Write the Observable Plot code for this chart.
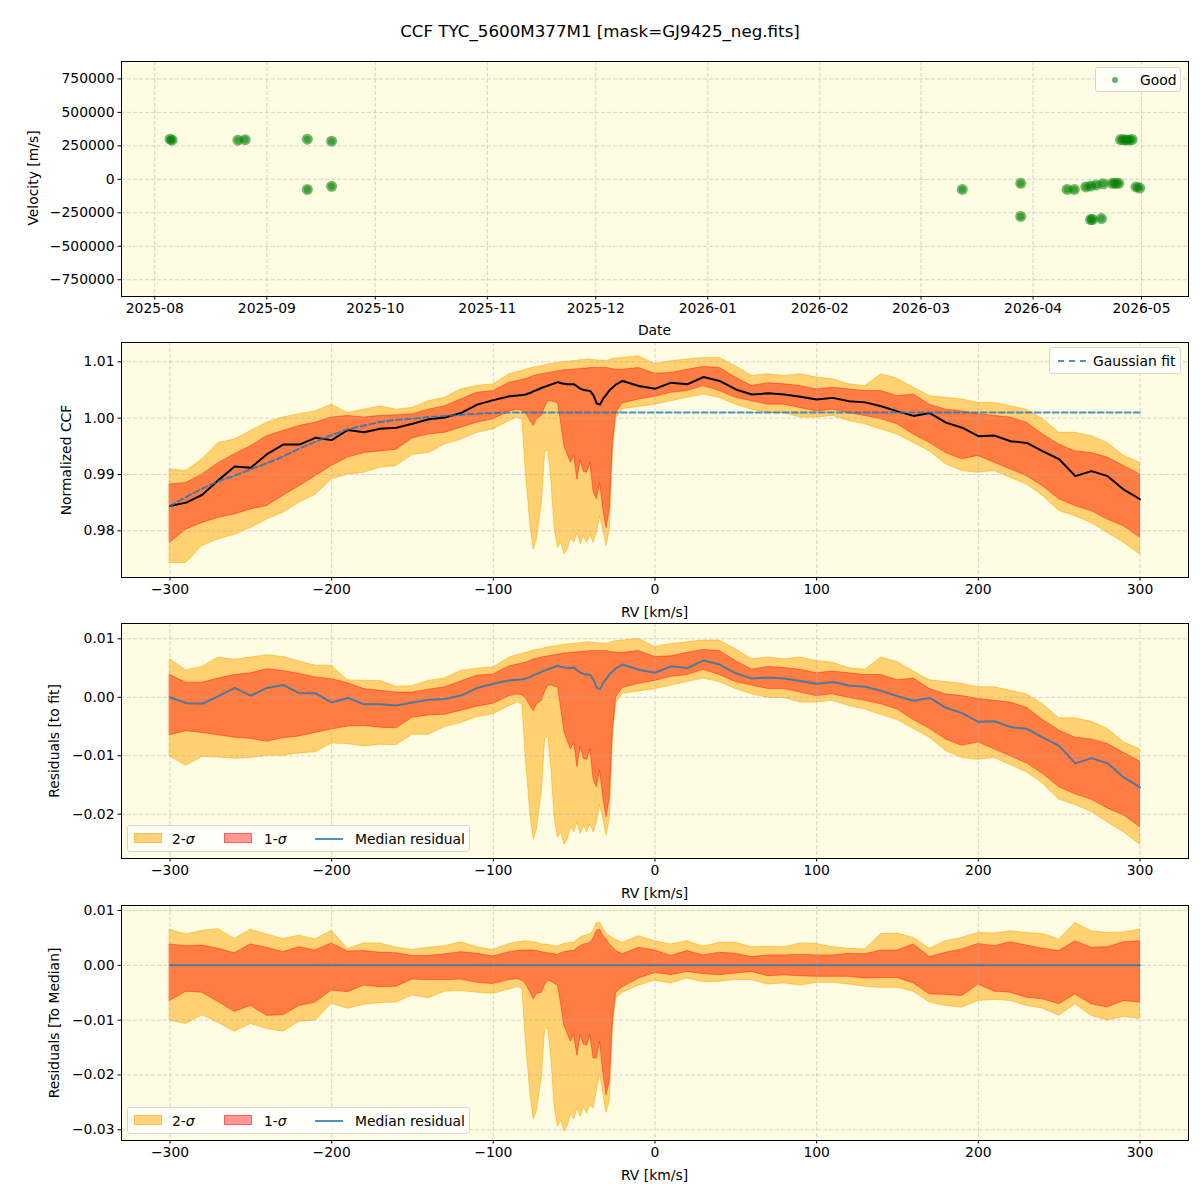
<!DOCTYPE html>
<html><head><meta charset="utf-8">
<script src="https://cdn.jsdelivr.net/npm/d3@7"></script>
<script src="https://cdn.jsdelivr.net/npm/@observablehq/plot@0.6"></script>
<style>
body{margin:0;background:#fff;font-family:"DejaVu Sans",sans-serif;color:#000;}
#fig{position:relative;width:1200px;height:1200px;overflow:hidden;}
.panel{position:absolute;left:0;}
.title{position:absolute;left:0;width:1200px;top:21px;text-align:center;font-size:16.7px;line-height:20px;}
.lab{position:absolute;font-size:13.9px;white-space:nowrap;line-height:16px;transform:translate(-50%,-50%);}
.ylab{transform:translate(-50%,-50%) rotate(-90deg);}
.legend{position:absolute;background:rgba(255,255,255,0.8);border:1px solid #d6d6d6;border-radius:3px;font-size:13.9px;box-sizing:border-box;}
.legend span{position:absolute;display:block;}
.lt{top:4px;line-height:17px;white-space:nowrap;}
</style></head>
<body><div id="fig"></div>
<script>
// ---------- data: observations (top panel) ----------
const obsDate = ["2025-08-05T05:00Z","2025-08-05T19:00Z","2025-08-24T00:00Z","2025-08-26T00:00Z",
  "2025-09-12T05:00Z","2025-09-12T05:00Z","2025-09-18T22:00Z","2025-09-18T22:00Z",
  "2026-03-12T10:00Z","2026-03-28T14:00Z","2026-03-28T14:00Z","2026-04-10T10:00Z","2026-04-12T10:00Z",
  "2026-04-15T14:00Z","2026-04-16T22:00Z","2026-04-18T12:00Z","2026-04-20T10:00Z","2026-04-22T22:00Z",
  "2026-04-23T20:00Z","2026-04-24T17:00Z","2026-04-16T22:00Z","2026-04-17T10:00Z","2026-04-19T22:00Z",
  "2026-04-25T05:00Z","2026-04-26T00:00Z","2026-04-26T20:00Z","2026-04-27T14:00Z","2026-04-28T10:00Z",
  "2026-04-29T12:00Z","2026-04-30T12:00Z"];
const obsVel = [300000,292000,292000,296000,
  300000,-75000,285000,-52000,
  -75000,-30000,-277000,-75000,-75000,
  -57000,-50000,-42000,-33000,-30000,
  -30000,-30000,-300000,-300000,-293000,
  297000,295000,294000,294000,297000,
  -57000,-65000];

// ---------- data: CCF profile (km/s grid) ----------
const rv = [-300,-290,-280,-270,-260,-250,-240,-230,-220,-210,-200,-190,-180,-170,-160,-150,-140,-130,-120,-110,-100,-90,
  -85,-82,-80,-77,-75,-73,-70,-68,-66,-64,-62,-60,-58,-56,-54,-52,-50,-48,-46,-44,-42,-40,-38,-36,-34,-32,-30,-28,-26,-24,-20,-10,
  0,10,20,30,40,50,60,70,80,90,100,110,120,130,140,150,160,170,180,190,200,210,220,230,240,250,260,270,280,290,300];
const ccfMedian = [0.9844,0.9850,0.9864,0.9890,0.9914,0.9912,0.9936,0.9953,0.9953,0.9965,0.9961,0.9979,0.9975,0.9981,0.9983,0.9990,0.9998,1.0001,1.0009,1.0024,1.0032,1.0039,
  1.0040,1.0041,1.0042,1.0045,1.0048,1.0050,1.0054,1.0056,1.0058,1.0060,1.0062,1.0064,1.0062,1.0061,1.0060,1.0060,1.0060,1.0056,1.0052,1.0050,1.0049,1.0048,1.0040,1.0026,1.0024,1.0035,1.0042,1.0050,1.0055,1.0060,1.0066,1.0057,
  1.0052,1.0063,1.0060,1.0073,1.0066,1.0051,1.0042,1.0044,1.0042,1.0038,1.0033,1.0036,1.0030,1.0028,1.0021,1.0012,1.0004,1.0009,0.9992,0.9983,0.9968,0.9969,0.9959,0.9956,0.9941,0.9927,0.9897,0.9906,0.9897,0.9873,0.9856];
const sigma1Hi = [0.9882,0.9885,0.9900,0.9920,0.9936,0.9950,0.9968,0.9977,0.9986,0.9992,1.0001,1.0004,1.0001,1.0004,1.0005,1.0007,1.0015,1.0021,1.0033,1.0045,1.0048,1.0063,
  1.0066,1.0068,1.0069,1.0072,1.0075,1.0076,1.0078,1.0079,1.0080,1.0081,1.0082,1.0083,1.0084,1.0085,1.0085,1.0086,1.0086,1.0087,1.0087,1.0088,1.0088,1.0089,1.0089,1.0089,1.0089,1.0089,1.0089,1.0088,1.0087,1.0086,1.0086,1.0089,
  1.0079,1.0080,1.0086,1.0091,1.0089,1.0072,1.0057,1.0062,1.0060,1.0057,1.0051,1.0054,1.0051,1.0048,1.0048,1.0039,1.0042,1.0024,1.0015,1.0012,1.0007,1.0004,1.0001,0.9992,0.9971,0.9953,0.9941,0.9938,0.9930,0.9915,0.9900];
const sigma2Hi = [0.9909,0.9906,0.9927,0.9956,0.9962,0.9977,0.9992,1.0001,1.0007,1.0012,1.0024,1.0009,1.0015,1.0021,1.0015,1.0018,1.0030,1.0036,1.0051,1.0057,1.0060,1.0078,
  1.0082,1.0084,1.0086,1.0088,1.0090,1.0091,1.0092,1.0094,1.0095,1.0096,1.0097,1.0098,1.0099,1.0100,1.0100,1.0101,1.0101,1.0102,1.0103,1.0103,1.0104,1.0104,1.0103,1.0103,1.0102,1.0102,1.0101,1.0103,1.0105,1.0106,1.0107,1.0110,
  1.0096,1.0101,1.0104,1.0107,1.0107,1.0092,1.0075,1.0078,1.0075,1.0078,1.0072,1.0069,1.0060,1.0057,1.0078,1.0070,1.0054,1.0039,1.0036,1.0033,1.0027,1.0027,1.0021,1.0015,0.9998,0.9974,0.9974,0.9968,0.9956,0.9933,0.9921];
const sigma1Lo = [0.9779,0.9802,0.9814,0.9823,0.9829,0.9838,0.9844,0.9862,0.9879,0.9897,0.9915,0.9930,0.9938,0.9941,0.9944,0.9964,0.9971,0.9974,0.9983,0.9992,0.9998,1.0012,
  1.0015,1.0013,1.0009,0.9995,0.9986,0.9998,1.0004,1.0020,1.0030,1.0030,1.0028,1.0027,0.9990,0.9950,0.9935,0.9921,0.9933,0.9891,0.9925,0.9905,0.9903,0.9921,0.9870,0.9856,0.9885,0.9838,0.9805,0.9838,0.9956,1.0010,1.0026,1.0033,
  1.0038,1.0045,1.0048,1.0057,1.0048,1.0036,1.0030,1.0024,1.0024,1.0018,1.0012,1.0015,1.0009,1.0004,0.9998,0.9989,0.9971,0.9956,0.9938,0.9927,0.9933,0.9921,0.9909,0.9897,0.9879,0.9856,0.9844,0.9835,0.9820,0.9808,0.9788];
const sigma2Lo = [0.9743,0.9743,0.9773,0.9785,0.9793,0.9805,0.9820,0.9832,0.9850,0.9864,0.9891,0.9900,0.9903,0.9912,0.9915,0.9935,0.9938,0.9953,0.9962,0.9974,0.9980,0.9995,
  1.0001,0.9998,0.9909,0.9808,0.9767,0.9785,0.9850,0.9938,0.9944,0.9885,0.9802,0.9770,0.9779,0.9758,0.9767,0.9788,0.9779,0.9796,0.9776,0.9791,0.9779,0.9793,0.9779,0.9796,0.9826,0.9802,0.9773,0.9802,0.9945,1.0000,1.0016,1.0020,
  1.0024,1.0030,1.0036,1.0042,1.0036,1.0024,1.0015,1.0009,1.0009,1.0001,1.0001,1.0004,0.9995,0.9989,0.9980,0.9971,0.9956,0.9941,0.9918,0.9906,0.9903,0.9906,0.9894,0.9882,0.9862,0.9835,0.9826,0.9814,0.9796,0.9779,0.9758];
const gaussFit = [0.9844,0.9860,0.9875,0.9888,0.9898,0.9909,0.9920,0.9932,0.9946,0.9958,0.9970,0.9980,0.9987,0.9993,0.9997,0.9999,1.0002,1.0004,1.0006,1.0008,1.0009,1.0010,
  1.0010,1.0010,1.0010,1.0010,1.0010,1.0010,1.0010,1.0010,1.0010,1.0010,1.0010,1.0010,1.0010,1.0010,1.0010,1.0010,1.0010,1.0010,1.0010,1.0010,1.0010,1.0010,1.0010,1.0010,1.0010,1.0010,1.0010,1.0010,1.0010,1.0010,1.0010,1.0010,
  1.0010,1.0010,1.0010,1.0010,1.0010,1.0010,1.0010,1.0010,1.0010,1.0010,1.0010,1.0010,1.0010,1.0010,1.0010,1.0010,1.0010,1.0010,1.0010,1.0010,1.0010,1.0010,1.0010,1.0010,1.0010,1.0010,1.0010,1.0010,1.0010,1.0010,1.0010];

// ---------- ticks ----------
const dateTicks = ["2025-08-01","2025-09-01","2025-10-01","2025-11-01","2025-12-01","2026-01-01","2026-02-01","2026-03-01","2026-04-01","2026-05-01"];
const velTicks = [-750000,-500000,-250000,0,250000,500000,750000];
const rvTicks = [-300,-200,-100,0,100,200,300];
const ccfTicks = [0.98,0.99,1.00,1.01];
const resTicks = [-0.02,-0.01,0.00,0.01];
const medTicks = [-0.03,-0.02,-0.01,0.00,0.01];

// ---------- build tables ----------
const obs = obsDate.map((d,i)=>({date:new Date(d), v:obsVel[i]}));
const prof = rv.map((r,i)=>({rv:r, med:ccfMedian[i], hi1:sigma1Hi[i], hi2:sigma2Hi[i], lo1:sigma1Lo[i], lo2:sigma2Lo[i], fit:gaussFit[i]}));
const resFit = prof.map(p=>({rv:p.rv, med:p.med-p.fit, hi1:p.hi1-p.fit, hi2:p.hi2-p.fit, lo1:p.lo1-p.fit, lo2:p.lo2-p.fit}));
const resMed = prof.map(p=>({rv:p.rv, med:0, hi1:p.hi1-p.med, hi2:p.hi2-p.med, lo1:p.lo1-p.med, lo2:p.lo2-p.med}));

const BG = "#fefce3";
const GRID = {stroke:"#b0b0b0", strokeOpacity:0.65, strokeDasharray:"4,2", strokeWidth:0.8};
const fig = document.getElementById("fig");
const MT = 5, MB = 40, PH = 235;

function addPanel(top, xScale, yScale, xTicks, yTicks, xFmt, yFmt, marks){
  const svg = Plot.plot({
    width:1200, height:MT+PH+MB,
    marginLeft:121, marginRight:12, marginTop:MT, marginBottom:MB,
    style:{background:"transparent", fontFamily:"DejaVu Sans, sans-serif", fontSize:"13.9px", color:"black", overflow:"visible"},
    x:xScale, y:yScale,
    marks:[
      Plot.frame({fill:BG}),
      ...marks.under,
      Plot.gridX(xTicks, GRID),
      Plot.gridY(yTicks, GRID),
      ...marks.over,
      Plot.axisX({ticks:xTicks, tickFormat:xFmt, tickSize:3.5, tickPadding:3.5, label:null}),
      Plot.axisY({ticks:yTicks, tickFormat:yFmt, tickSize:3.5, tickPadding:3.5, label:null}),
      Plot.frame({stroke:"black", strokeWidth:1})
    ]
  });
  svg.classList.add("panel");
  svg.style.top = (top - MT) + "px";
  fig.appendChild(svg);
}

function bandMarks(data, lineColor, lineOpacity, withFit){
  const under = [
    Plot.areaY(data, {x:"rv", y1:"lo2", y2:"hi2", fill:"orange", fillOpacity:0.5, stroke:"orange", strokeOpacity:0.5, strokeWidth:1}),
    Plot.areaY(data, {x:"rv", y1:"lo1", y2:"hi1", fill:"red", fillOpacity:0.4, stroke:"red", strokeOpacity:0.4, strokeWidth:1})
  ];
  const over = [Plot.lineY(data, {x:"rv", y:"med", stroke:lineColor, strokeOpacity:lineOpacity, strokeWidth:2})];
  if (withFit) over.push(Plot.lineY(data, {x:"rv", y:"fit", stroke:"#1f77b4", strokeOpacity:0.8, strokeWidth:2, strokeDasharray:"6,3"}));
  return {under, over};
}

const rvScale = {type:"linear", domain:[-330,330]};
const intFmt = d3.format("d");
const f2 = d3.format(".2f");

// Panel 1
addPanel(61,
  {type:"utc", domain:[new Date("2025-07-22T19:00Z"), new Date("2026-05-14T00:00Z")]},
  {type:"linear", domain:[-875000, 880000]},
  dateTicks.map(d=>new Date(d+"T00:00Z")), velTicks, d3.utcFormat("%Y-%m"), intFmt,
  {under:[], over:[
    Plot.dot(obs, {x:"date", y:"v", r:5.5, fill:"green", fillOpacity:0.55, stroke:"none"}),
    Plot.dot(obs, {x:"date", y:"v", r:3.5, fill:"green", fillOpacity:0.45, stroke:"none"})
  ]});

// Panel 2
addPanel(342, rvScale, {type:"linear", domain:[0.97171, 1.01343]}, rvTicks, ccfTicks, intFmt, f2,
  bandMarks(prof, "black", 1, true));
// Panel 3
addPanel(623, rvScale, {type:"linear", domain:[-0.02757, 0.01262]}, rvTicks, resTicks, intFmt, f2,
  bandMarks(resFit, "#1f77b4", 0.8, false));
// Panel 4
addPanel(905, rvScale, {type:"linear", domain:[-0.03195, 0.01091]}, rvTicks, medTicks, intFmt, f2,
  bandMarks(resMed, "#1f77b4", 0.8, false));

// ---------- text: title, axis labels ----------
function html(s){ const d=document.createElement("div"); d.innerHTML=s; return d.firstChild; }
fig.appendChild(html('<div class="title">CCF TYC_5600M377M1 [mask=GJ9425_neg.fits]</div>'));
const labels = [
  ["Date",654.5,330,false],["RV [km/s]",654.5,612,false],["RV [km/s]",654.5,893,false],["RV [km/s]",654.5,1175,false],
  ["Velocity [m/s]",33,178,true],["Normalized CCF",66,459.5,true],["Residuals [to fit]",54,740.5,true],["Residuals [To Median]",54,1022.5,true]
];
for (const [t,x,y,rot] of labels){
  fig.appendChild(html(`<div class="lab${rot?" ylab":""}" style="left:${x}px;top:${y}px">${t}</div>`));
}
// ---------- legends ----------
fig.appendChild(html(`<div class="legend" style="left:1095px;top:67px;width:86px;height:25px">
  <span style="left:16px;top:9px;width:6px;height:6px;border-radius:50%;background:rgba(0,128,0,0.6)"></span>
  <span class="lt" style="left:44px">Good</span></div>`));
fig.appendChild(html(`<div class="legend" style="left:1049px;top:347px;width:132px;height:27px">
  <span style="left:8px;top:12px;width:28px;height:0;border-top:2px dashed rgba(31,119,180,0.8)"></span>
  <span class="lt" style="left:43px;top:5px">Gaussian fit</span></div>`));
for (const top of [825, 1107]){
  fig.appendChild(html(`<div class="legend" style="left:127px;top:${top}px;width:343px;height:27px">
    <span style="left:6px;top:7px;width:28px;height:10px;box-sizing:border-box;background:rgba(255,165,0,0.5);border:1px solid rgba(255,165,0,0.5)"></span>
    <span class="lt" style="left:44px;top:5px">2-<i>σ</i></span>
    <span style="left:96px;top:7px;width:28px;height:10px;box-sizing:border-box;background:rgba(255,0,0,0.4);border:1px solid rgba(255,0,0,0.4)"></span>
    <span class="lt" style="left:136px;top:5px">1-<i>σ</i></span>
    <span style="left:187px;top:12px;width:28px;height:2px;background:rgba(31,119,180,0.8)"></span>
    <span class="lt" style="left:227px;top:5px">Median residual</span></div>`));
}
</script></body></html>
